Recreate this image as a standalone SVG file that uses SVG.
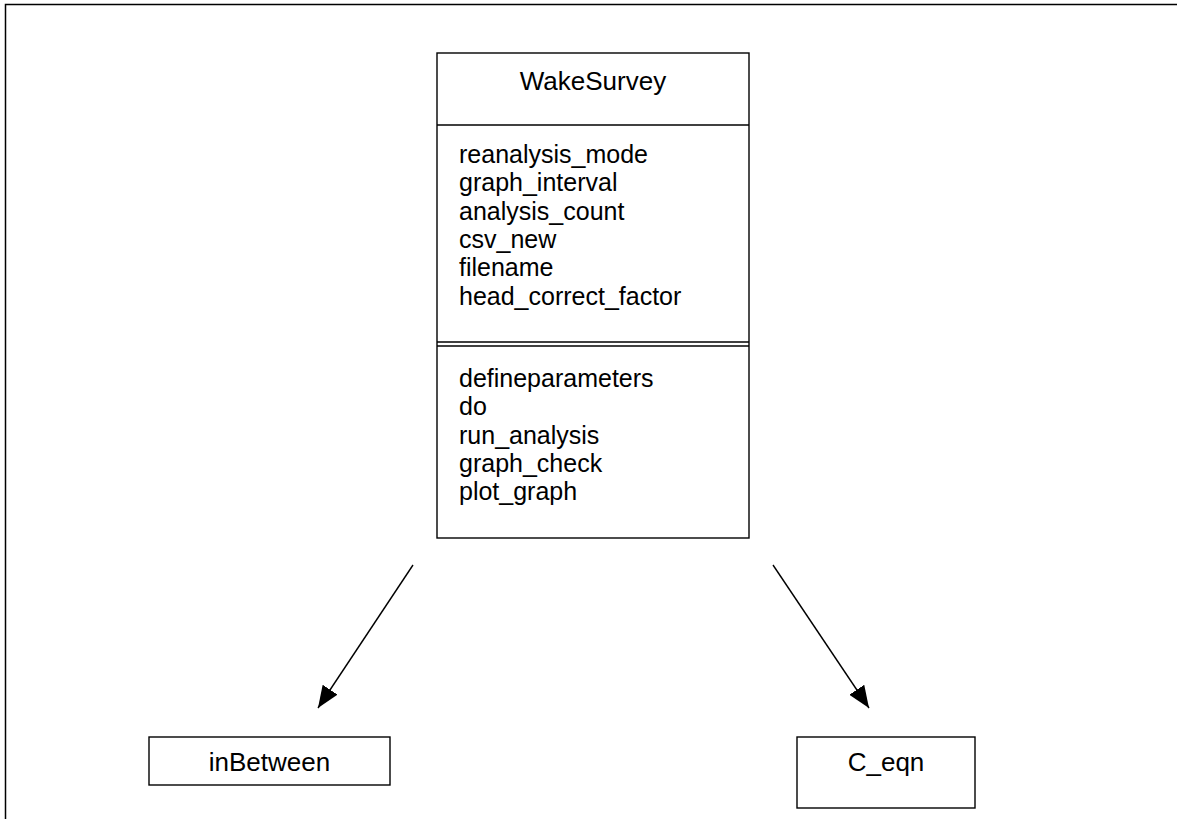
<svg xmlns="http://www.w3.org/2000/svg" width="1177" height="819" viewBox="0 0 1177 819">
<style>
.box{fill:#fff;stroke:#000;stroke-width:1.4}
.sep{stroke:#000;stroke-width:1.4;fill:none}
.t{font-family:"Liberation Sans",Arial,sans-serif;font-size:25px;fill:#000}
.h{font-size:26px}
.c{text-anchor:middle}
.edge{stroke:#000;stroke-width:1.4;fill:none}
</style>
<defs>
<marker id="arr" viewBox="0 0 22 18" refX="22" refY="9" markerWidth="22" markerHeight="18" markerUnits="userSpaceOnUse" orient="auto">
<path d="M0,0 L22,9 L0,18 Z" fill="#000"/>
</marker>
</defs>
<rect width="1177" height="819" fill="#fff"/>
<path d="M5.5,819 V4.5 H1177" fill="none" stroke="#000" stroke-width="1.5"/>
<g id="WakeSurvey">
<rect class="box" x="437" y="53" width="312" height="485"/>
<line class="sep" x1="437" y1="125" x2="749" y2="125"/>
<line class="sep" x1="437" y1="342" x2="749" y2="342"/>
<line class="sep" x1="437" y1="346" x2="749" y2="346"/>
<text class="t h c" x="593" y="90">WakeSurvey</text>
<text class="t" x="459" y="163">reanalysis_mode</text>
<text class="t" x="459" y="191.3">graph_interval</text>
<text class="t" x="459" y="219.6">analysis_count</text>
<text class="t" x="459" y="248">csv_new</text>
<text class="t" x="459" y="276.2">filename</text>
<text class="t" x="459" y="304.5">head_correct_factor</text>
<text class="t" x="459" y="387">defineparameters</text>
<text class="t" x="459" y="415.3">do</text>
<text class="t" x="459" y="443.6">run_analysis</text>
<text class="t" x="459" y="472">graph_check</text>
<text class="t" x="459" y="500.2">plot_graph</text>
</g>
<g id="inBetween">
<rect class="box" x="149" y="737" width="241" height="48"/>
<text class="t h c" x="269.5" y="771">inBetween</text>
</g>
<g id="C_eqn">
<rect class="box" x="797" y="737" width="178" height="71"/>
<text class="t h c" x="886" y="771">C_eqn</text>
</g>
<g id="connectors">
<path class="edge" d="M413,565 L318,708" marker-end="url(#arr)"/>
<path class="edge" d="M773,565 L869,708" marker-end="url(#arr)"/>
</g>
</svg>
